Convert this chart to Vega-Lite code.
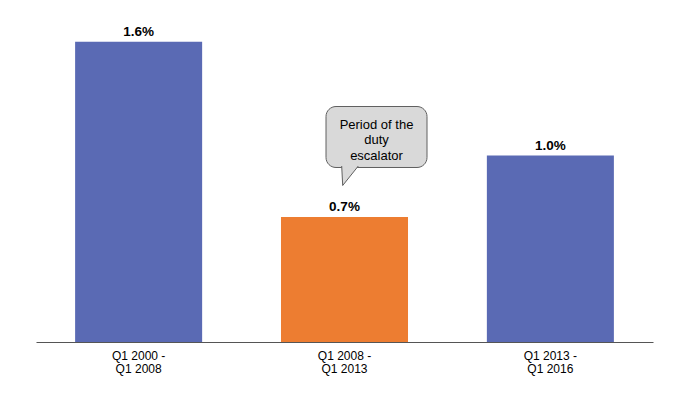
{
  "$schema": "https://vega.github.io/schema/vega-lite/v6.json",
  "width": 617,
  "height": 316,
  "autosize": "none",
  "padding": {"left": 36, "top": 26, "right": 30, "bottom": 52},
  "background": "white",
  "config": {"view": {"stroke": null}, "font": "Liberation Sans"},
  "datasets": {
    "growth": [
      {"period": "Q1 2000 - Q1 2008", "growth": 0.0161, "phase": "other"},
      {"period": "Q1 2008 - Q1 2013", "growth": 0.0067, "phase": "duty escalator"},
      {"period": "Q1 2013 - Q1 2016", "growth": 0.0100, "phase": "other"}
    ],
    "note": [
      {"period": "Q1 2008 - Q1 2013", "text": ["Period of the", "duty", "escalator"]}
    ]
  },
  "encoding": {
    "x": {
      "field": "period",
      "type": "nominal",
      "sort": null,
      "scale": {"paddingInner": 0.383, "paddingOuter": 0.19},
      "axis": {
        "title": null,
        "labelAngle": 0,
        "ticks": false,
        "tickSize": 0,
        "domainColor": "#555555",
        "domainWidth": 1,
        "labelFontSize": 12,
        "labelColor": "#000000",
        "labelPadding": 8,
        "labelLineHeight": 13,
        "labelFont": "Liberation Sans",
        "labelExpr": "[slice(datum.label, 0, 9), slice(datum.label, 10)]"
      }
    }
  },
  "layer": [
    {
      "data": {"name": "growth"},
      "mark": {"type": "bar"},
      "encoding": {
        "y": {"field": "growth", "type": "quantitative", "scale": {"domain": [0, 0.016944], "nice": false, "zero": true}, "axis": null},
        "color": {
          "field": "phase",
          "type": "nominal",
          "scale": {"domain": ["other", "duty escalator"], "range": ["#5A6AB4", "#ED7D31"]},
          "legend": null
        }
      }
    },
    {
      "data": {"name": "growth"},
      "mark": {"type": "text", "dy": -6, "baseline": "alphabetic", "fontWeight": "bold", "fontSize": 13.5, "color": "#000000"},
      "encoding": {
        "y": {"field": "growth", "type": "quantitative"},
        "text": {"field": "growth", "type": "quantitative", "format": ".1%"}
      }
    },
    {
      "data": {"name": "note"},
      "mark": {"type": "bar", "width": 101, "xOffset": 32, "cornerRadius": 10, "fill": "#D9D9D9", "stroke": "#606060", "strokeWidth": 1},
      "encoding": {
        "y": {"datum": 0.009357, "type": "quantitative"},
        "y2": {"datum": 0.012627}
      }
    },
    {
      "data": {"name": "note"},
      "mark": {"type": "point", "shape": "M-0.83,-1.05L-0.73,0.9L0.83,-1.05", "size": 400, "filled": true, "fill": "#D9D9D9", "stroke": "#606060", "strokeWidth": 1, "opacity": 1, "xOffset": 5.5},
      "encoding": {
        "y": {"datum": 0.008874, "type": "quantitative"}
      }
    },
    {
      "data": {"name": "note"},
      "mark": {"type": "text", "xOffset": 32, "baseline": "alphabetic", "fontSize": 13, "lineHeight": 15.5, "color": "#000000"},
      "encoding": {
        "y": {"datum": 0.011432, "type": "quantitative"},
        "text": {"field": "text"}
      }
    }
  ]
}
